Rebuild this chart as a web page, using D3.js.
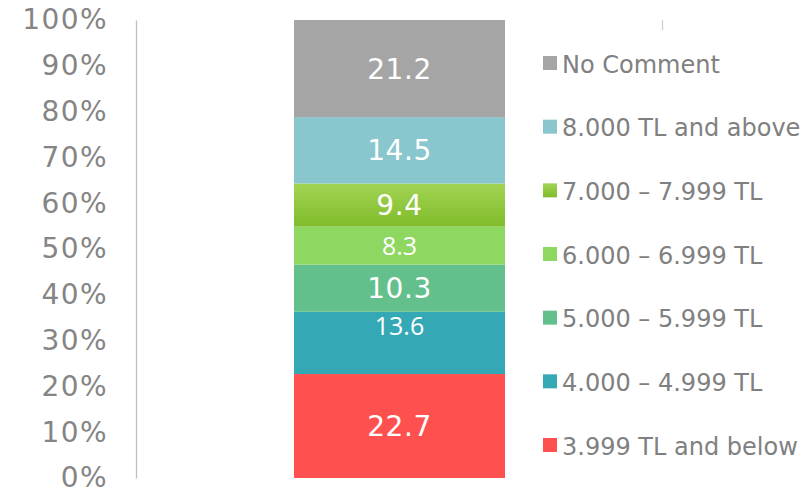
<!DOCTYPE html>
<html>
<head>
<meta charset="utf-8">
<script src="https://cdn.jsdelivr.net/npm/d3@7"></script>
<style>
  body { margin: 0; background: #fff; }
  svg { display: block; font-family: "DejaVu Sans", Verdana, sans-serif; }
</style>
</head>
<body>
<div id="chart"></div>
<script>
// bottom to top
const categories = ["3.999 TL and below", "4.000 – 4.999 TL", "5.000 – 5.999 TL",
  "6.000 – 6.999 TL", "7.000 – 7.999 TL", "8.000 TL and above", "No Comment"];
const values = [22.7, 13.6, 10.3, 8.3, 9.4, 14.5, 21.2];
const yTicks = [0, 10, 20, 30, 40, 50, 60, 70, 80, 90, 100];

// styles per segment
const colors = ["#FF5050", "#35A8B6", "#63C08C", "#8ED862", "url(#grad7)", "#89C6CD", "#A5A5A5"];
const labelFonts = ["big", "small", "big", "small", "big", "big", "big"];
const labelShift = [0, -17, 0, 0, 0, 0, 0];

const width = 810, height = 493;
const svg = d3.select("#chart").append("svg")
  .attr("width", width)
  .attr("height", height);

const defs = svg.append("defs");
const g7 = defs.append("linearGradient")
  .attr("id", "grad7").attr("x1", 0).attr("y1", 0).attr("x2", 0).attr("y2", 1);
g7.append("stop").attr("offset", "0%").attr("stop-color", "#A2D454");
g7.append("stop").attr("offset", "100%").attr("stop-color", "#80BC2A");

const y = d3.scaleLinear().domain([0, 100]).range([478, 20]);

let acc = 0;
const stacked = values.map((v, i) => {
  const d = { cat: categories[i], v, y0: acc, y1: acc + v, i };
  acc += v;
  return d;
});

// axis
const yAxis = svg.append("g")
  .attr("transform", "translate(136,0)")
  .call(d3.axisLeft(y).tickValues(yTicks).tickFormat(d => d + "%").tickSize(0).tickPadding(28));
yAxis.select(".domain").attr("stroke", "#BFBFBF").attr("stroke-width", 1.3);
yAxis.selectAll("text")
  .attr("fill", "#858585")
  .style("font-size", "28px")
  .style("letter-spacing", "1.4px")
  .style("font-family", "'DejaVu Sans', Verdana, sans-serif");

// small tick at top of right edge
svg.append("line")
  .attr("x1", 662.5).attr("x2", 662.5)
  .attr("y1", y(100)).attr("y2", y(100) + 10)
  .attr("stroke", "#D0D0D0").attr("stroke-width", 1.3);

const barX = 294, barW = 211;

svg.selectAll(".seg")
  .data(stacked)
  .join("rect")
  .attr("class", "seg")
  .attr("x", barX)
  .attr("width", barW)
  .attr("y", d => y(d.y1))
  .attr("height", d => y(d.y0) - y(d.y1))
  .attr("fill", d => colors[d.i]);

svg.selectAll(".lbl")
  .data(stacked)
  .join("text")
  .attr("class", "lbl")
  .attr("x", barX + barW / 2)
  .attr("y", d => y((d.y0 + d.y1) / 2) + labelShift[d.i])
  .attr("dy", "0.36em")
  .attr("text-anchor", "middle")
  .attr("fill", "#fff")
  .style("font-size", d => labelFonts[d.i] === "big" ? "28px" : "25px")
  .style("font-family", d => labelFonts[d.i] === "big" ? "'DejaVu Sans', Verdana, sans-serif" : "'Open Sans', sans-serif")
  .style("letter-spacing", d => labelFonts[d.i] === "big" ? "0.6px" : "0px")
  .text(d => d.v.toFixed(1));

// legend, top to bottom
const legendData = stacked.slice().reverse();
const ly = d3.scalePoint().domain(legendData.map(d => d.cat)).range([64, 446]);

const leg = svg.selectAll(".leg")
  .data(legendData)
  .join("g")
  .attr("class", "leg")
  .attr("transform", d => `translate(543,${ly(d.cat)})`);

leg.append("rect")
  .attr("x", 0).attr("y", -8)
  .attr("width", 14).attr("height", 14)
  .attr("fill", d => colors[d.i]);

leg.append("text")
  .attr("x", 19)
  .attr("dy", "0.36em")
  .attr("fill", "#808080")
  .style("font-size", "24px")
  .text(d => d.cat);
</script>
</body>
</html>
